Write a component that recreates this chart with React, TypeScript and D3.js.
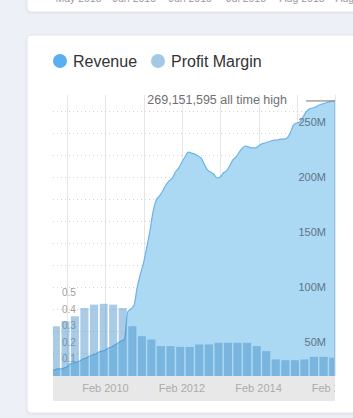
import React from 'react';
import * as d3 from 'd3';

// Monthly revenue (millions), Sep 2008 .. Feb 2016
const revenueM = [
  23.6, 24.5, 25.5, 25.5, 26.4, 27.3, 30.0, 30.9, 31.8, 32.7,
  34.5, 35.5, 37.3, 38.2, 39.1, 40.9, 41.8, 42.7, 44.5, 45.5,
  47.3, 49.1, 50.9, 52.7, 77.3, 80.0, 83.6, 100.0, 111.8, 122.7,
  135.5, 150.9, 168.2, 179.1, 182.7, 187.3, 192.7, 196.4, 199.1, 204.5,
  208.2, 213.6, 218.2, 222.7, 221.8, 220.9, 219.1, 217.3, 211.8, 206.4,
  204.5, 202.7, 199.1, 200.0, 203.6, 205.5, 210.0, 215.5, 218.2, 222.7,
  226.4, 228.2, 227.3, 226.4, 226.4, 228.2, 230.0, 230.9, 231.8, 232.7,
  233.6, 233.6, 234.5, 234.5, 235.5, 240.0, 247.3, 249.1, 250.0, 254.5,
  259.1, 261.8, 262.7, 263.6, 265.5, 266.4, 267.3, 268.2, 269.1, 269.15,
];
// Quarterly profit margin, Q4 2008 .. Q1 2016
const profitMargin = [
  0.30, 0.33, 0.36, 0.41, 0.43, 0.435, 0.43, 0.41, 0.30, 0.24,
  0.22, 0.18, 0.18, 0.175, 0.175, 0.19, 0.19, 0.20, 0.20, 0.20,
  0.20, 0.18, 0.15, 0.10, 0.095, 0.095, 0.10, 0.115, 0.115, 0.11,
];
const revenueTicks = [50, 100, 150, 200, 250];
const revenueGrid = [40, 60, 80, 100, 120, 140, 160, 180, 200, 220, 240, 260];
const profitTicks = [0.1, 0.2, 0.3, 0.4, 0.5];
const gridYears = [2009, 2010, 2011, 2012, 2013, 2014, 2015, 2016];
const labelYears = [2010, 2012, 2014, 2016];
const topLabels = ['May 2015', 'Jun 2015', 'Jun 2015', 'Jul 2015', 'Aug 2015', 'Aug 2015'];
const legendItems = ['Revenue', 'Profit Margin'];
const legendColors = ['#5aaff0', '#a4c9e7'];
const allTimeHigh = 269151595;

const FONT = '"Liberation Sans", Arial, Helvetica, sans-serif';

export default function App() {
  const left = 53, right = 335, top = 100, bottom = 376;
  const months = d3.timeMonth.range(new Date(2008, 8, 1), new Date(2016, 2, 1));
  const x = d3.scaleTime()
    .domain([new Date(2008, 8, 18), new Date(2016, 1, 1)])
    .range([left, right]);
  const y = d3.scaleLinear().domain([19.09, 270]).range([bottom, top]);
  const yp = d3.scaleLinear().domain([0, 1.663]).range([bottom, top]);

  const revData = revenueM.map((v, i) => ({ d: months[i], v }));
  const area = d3.area<{ d: Date; v: number }>()
    .x(p => x(p.d)).y0(bottom).y1(p => y(p.v)).curve(d3.curveMonotoneX);
  const line = d3.line<{ d: Date; v: number }>()
    .x(p => x(p.d)).y(p => y(p.v)).curve(d3.curveMonotoneX);

  const barStart = new Date(2008, 9, 15);
  const bars = profitMargin.map((v, i) => {
    const c = d3.timeMonth.offset(barStart, 3 * i);
    const w = x(d3.timeMonth.offset(c, 3)) - x(c) - 1.5;
    return { cx: x(c), w, v };
  });

  const topX = d3.scalePoint<number>().domain(topLabels.map((_, i) => i)).range([78.5, 358]);
  const fmt = d3.format(',');

  return (
    <svg width={353} height={418} style={{ position: 'absolute', left: 0, top: 0, fontFamily: FONT }}>
      <defs>
        <clipPath id="plot"><rect x={left} y={90} width={right - left} height={bottom - 90} /></clipPath>
        <clipPath id="band"><rect x={left} y={bottom} width={right - left} height={30} /></clipPath>
        <filter id="sh" x="-5%" y="-5%" width="110%" height="110%">
          <feDropShadow dx="0" dy="1" stdDeviation="1" floodColor="#000" floodOpacity="0.08" />
        </filter>
      </defs>
      <rect x={0} y={0} width={353} height={418} fill="#eef0f7" />
      {/* previous card */}
      <rect x={27} y={-20} width={340} height={32} rx={4} fill="#fff" stroke="#e4e5ea" filter="url(#sh)" />
      {topLabels.map((t, i) => (
        <text key={i} x={topX(i)} y={2} fontSize={10.5} fill="#999" textAnchor="middle">{t}</text>
      ))}
      {/* main card */}
      <rect x={27} y={35} width={340} height={378} rx={4} fill="#fff" stroke="#e4e5ea" filter="url(#sh)" />

      {/* legend */}
      {legendItems.map((t, i) => {
        const lx = i === 0 ? 60 : 158;
        return (
          <g key={t}>
            <circle cx={lx} cy={61} r={7} fill={legendColors[i]} />
            <text x={lx + 13} y={67} fontSize={16} fill="#333">{t}</text>
          </g>
        );
      })}

      {/* grid */}
      {gridYears.map(yr => {
        const gx = Math.round(x(new Date(yr, 1, 1))) + 0.5;
        return <line key={yr} x1={gx} x2={gx} y1={95} y2={bottom} stroke="#e6e6e6" />;
      })}
      {revenueGrid.map(v => (
        <line key={v} x1={left} x2={right} y1={Math.round(y(v)) + 0.5} y2={Math.round(y(v)) + 0.5}
          stroke="#d4d4d4" strokeDasharray="1,3" />
      ))}

      {/* profit axis labels (under bars) */}
      {profitTicks.map(v => (
        <text key={v} x={62} y={yp(v) + 3} fontSize={10} fill="#a0a0a0">{v.toFixed(1)}</text>
      ))}

      <g clipPath="url(#plot)">
        <path d={area(revData) || ''} fill="#abd8f2" />
        <path d={line(revData) || ''} fill="none" stroke="#6cb2ea" strokeWidth={1.2} />
        {bars.map((b, i) => (
          <rect key={i} x={b.cx - b.w / 2} y={yp(b.v)} width={b.w} height={bottom - yp(b.v)}
            fill="rgb(60,137,198)" fillOpacity={0.44} />
        ))}
      </g>
      <line x1={right - 0.5} x2={right - 0.5} y1={y(269.15)} y2={bottom} stroke="#8cc4ee" />

      {/* all-time high */}
      <line x1={x(new Date(2015, 4, 1))} x2={right} y1={y(269.15)} y2={y(269.15)} stroke="#8a8a8a" strokeWidth={1.2} />
      <text x={287} y={104} fontSize={12.5} fill="#707070" textAnchor="end">
        {fmt(allTimeHigh)} all time high
      </text>

      {/* revenue axis labels */}
      {revenueTicks.map(v => (
        <text key={v} x={326} y={y(v) + 4} fontSize={11} fill="#5f7588" textAnchor="end">{v}M</text>
      ))}

      {/* x axis band */}
      <rect x={left} y={bottom} width={right - left} height={25} fill="#e8e8e8" />
      <g clipPath="url(#band)">
        {labelYears.map(yr => (
          <text key={yr} x={x(new Date(yr, 1, 1))} y={392} fontSize={11} fill="#acacac" textAnchor="middle">
            Feb {yr}
          </text>
        ))}
      </g>
    </svg>
  );
}
